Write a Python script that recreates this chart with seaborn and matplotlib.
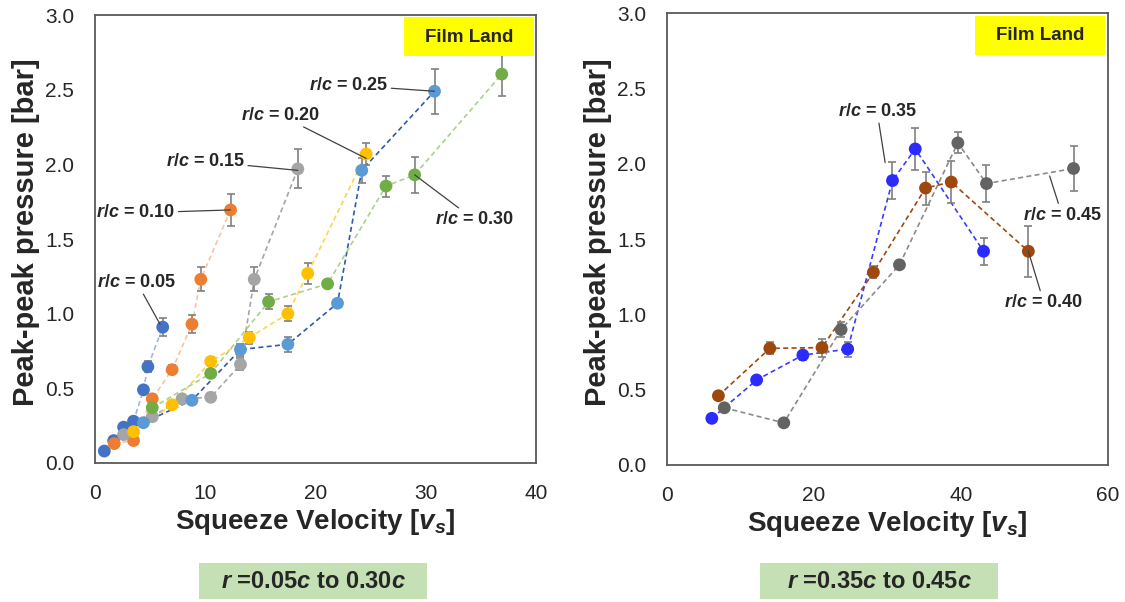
import numpy as np
import pandas as pd
import matplotlib
matplotlib.use('Agg')
import matplotlib.pyplot as plt
from matplotlib.patches import Rectangle
import seaborn as sns


# Left panel: r/c = 0.05 ... 0.30
rc05_x = [0.85, 1.7, 2.6, 3.5, 4.4, 4.8, 6.15]
rc05_y = [0.08, 0.15, 0.24, 0.28, 0.49, 0.645, 0.91]
rc05_err = [0, 0, 0, 0, 0.02, 0.035, 0.06]

rc10_x = [1.75, 3.5, 5.2, 7.0, 8.8, 9.6, 12.3]
rc10_y = [0.13, 0.15, 0.43, 0.625, 0.93, 1.23, 1.695]
rc10_err = [0, 0, 0.02, 0.03, 0.06, 0.08, 0.11]

rc15_x = [2.6, 5.2, 7.9, 10.5, 13.2, 14.45, 18.4]
rc15_y = [0.19, 0.31, 0.43, 0.44, 0.66, 1.23, 1.97]
rc15_err = [0, 0.02, 0.02, 0.02, 0.04, 0.08, 0.13]

rc20_x = [3.5, 7.0, 10.5, 14.0, 17.5, 19.3, 24.6]
rc20_y = [0.21, 0.39, 0.68, 0.84, 1.0, 1.27, 2.07]
rc20_err = [0, 0.02, 0.03, 0.04, 0.05, 0.07, 0.075]

rc25_x = [4.4, 8.8, 13.2, 17.5, 22.0, 24.2, 30.8]
rc25_y = [0.27, 0.42, 0.76, 0.795, 1.07, 1.96, 2.49]
rc25_err = [0, 0.02, 0.04, 0.05, 0.02, 0.085, 0.15]

rc30_x = [5.2, 10.5, 15.75, 21.1, 26.4, 29.0, 36.9]
rc30_y = [0.37, 0.60, 1.08, 1.20, 1.855, 1.93, 2.605]
rc30_err = [0.02, 0.02, 0.05, 0.02, 0.07, 0.12, 0.15]

# Right panel: r/c = 0.35 ... 0.45
rc35_x = [6.1, 12.2, 18.5, 24.6, 30.7, 33.8, 43.1]
rc35_y = [0.31, 0.565, 0.73, 0.77, 1.89, 2.10, 1.42]
rc35_err = [0, 0.02, 0.03, 0.05, 0.12, 0.14, 0.09]

rc40_x = [7.0, 14.0, 21.1, 28.1, 35.2, 38.7, 49.2]
rc40_y = [0.46, 0.775, 0.78, 1.28, 1.84, 1.88, 1.42]
rc40_err = [0.02, 0.04, 0.06, 0.04, 0.11, 0.14, 0.17]

rc45_x = [7.8, 15.9, 23.7, 31.65, 39.6, 43.5, 55.35]
rc45_y = [0.38, 0.28, 0.90, 1.33, 2.14, 1.87, 1.97]
rc45_err = [0.02, 0, 0.05, 0.02, 0.07, 0.12, 0.15]

left_names = ['0.05', '0.10', '0.15', '0.20', '0.25', '0.30']
right_names = ['0.35', '0.40', '0.45']

left_series = [(rc05_x, rc05_y, rc05_err), (rc10_x, rc10_y, rc10_err),
               (rc15_x, rc15_y, rc15_err), (rc20_x, rc20_y, rc20_err),
               (rc25_x, rc25_y, rc25_err), (rc30_x, rc30_y, rc30_err)]
right_series = [(rc35_x, rc35_y, rc35_err), (rc40_x, rc40_y, rc40_err),
                (rc45_x, rc45_y, rc45_err)]

left_marker_colors = ['#4472C4', '#ED7D31', '#A5A5A5', '#FFC000', '#5B9BD5', '#70AD47']
left_line_colors = ['#9DB5E3', '#F6C4A2', '#A5A5A5', '#FFD34D', '#2F5BA8', '#A9D18E']
right_marker_colors = ['#2B2BFF', '#9E480E', '#636363']
right_line_colors = ['#3B3BFF', '#9E480E', '#8A8A8A']


def make_frame(names, series):
	frames = []
	for name, (x, y, err) in zip(names, series):
		frames.append(pd.DataFrame({'v': x, 'p': y, 'err': err, 'rc': name}))
	return pd.concat(frames, ignore_index=True)


df_left = make_frame(left_names, left_series)
df_right = make_frame(right_names, right_series)

sns.set_theme(style='white')
plt.rcParams['font.family'] = ['Liberation Sans', 'DejaVu Sans']
plt.rcParams['mathtext.fontset'] = 'custom'
plt.rcParams['mathtext.it'] = 'Liberation Sans:italic:bold'
plt.rcParams['mathtext.rm'] = 'Liberation Sans:bold'
plt.rcParams['mathtext.bf'] = 'Liberation Sans:bold'

fig = plt.figure(figsize=(11.25, 6.02), dpi=100)
ax1 = fig.add_axes([0.0844, 0.2309, 0.392, 0.744])
ax2 = fig.add_axes([0.5929, 0.2276, 0.3917, 0.750])


def draw_panel(ax, df, names, line_colors, marker_colors):
	sns.lineplot(data=df, x='v', y='p', hue='rc', hue_order=names,
	             palette=dict(zip(names, line_colors)), linestyle=(0, (3, 2)),
	             linewidth=1.2, sort=False, legend=False, ax=ax, zorder=1)
	for name in names:
		sub = df[df.rc == name]
		sub = sub[sub.err > 0]
		ax.errorbar(sub.v, sub.p, yerr=sub.err, fmt='none', ecolor='#808080',
		            elinewidth=1.2, capsize=3, capthick=1.2, zorder=2)
	sns.scatterplot(data=df, x='v', y='p', hue='rc', hue_order=names,
	                palette=dict(zip(names, marker_colors)), s=85,
	                linewidth=0, legend=False, ax=ax, zorder=3)


draw_panel(ax1, df_left, left_names, left_line_colors, left_marker_colors)
draw_panel(ax2, df_right, right_names, right_line_colors, right_marker_colors)

ax1.set_xlim(0, 40)
ax1.set_xticks([0, 10, 20, 30, 40])
ax2.set_xlim(0, 60)
ax2.set_xticks([0, 20, 40, 60])

for ax in (ax1, ax2):
	ax.set_ylim(0, 3)
	ax.set_yticks(np.arange(0, 3.01, 0.5))
	ax.set_yticklabels(['%.1f' % t for t in np.arange(0, 3.01, 0.5)])
	ax.tick_params(axis='both', length=0, pad=15, labelsize=15, colors='#262626')
	for sp in ax.spines.values():
		sp.set_color('#595959')
		sp.set_linewidth(1.3)
	ax.set_xlabel(r'Squeeze Velocity [$\mathit{v_s}$]', fontsize=20, fontweight='bold')
	ax.set_ylabel('Peak-peak pressure [bar]', fontsize=21, fontweight='bold')
	ax.xaxis.set_label_coords(0.5, -0.098)
	ax.yaxis.set_label_coords(-0.125, 0.515)
	# yellow "Film Land" tag
	ax.add_patch(Rectangle((0.70, 0.908), 0.295, 0.087, transform=ax.transAxes,
	                       facecolor='#FFFF00', edgecolor='none', zorder=5))
	ax.text(0.8475, 0.951, 'Film Land', transform=ax.transAxes, ha='center',
	        va='center', fontsize=13.5, fontweight='bold', zorder=6)

arrow = dict(arrowstyle='-', color='#404040', lw=0.9, shrinkA=0, shrinkB=0)
left_notes = [('0.05', (3.8, 1.21), (5.9, 0.93)),
              ('0.10', (3.7, 1.675), (12.3, 1.695)),
              ('0.15', (10.0, 2.02), (18.4, 1.96)),
              ('0.20', (16.8, 2.33), (24.6, 2.04)),
              ('0.25', (23.0, 2.53), (30.8, 2.49)),
              ('0.30', (34.4, 1.63), (29.0, 1.93))]
right_notes = [('0.35', (28.6, 2.35), (29.7, 2.01)),
               ('0.45', (53.8, 1.66), (52.1, 1.92)),
               ('0.40', (51.3, 1.08), (49.2, 1.42))]

for ax, notes in ((ax1, left_notes), (ax2, right_notes)):
	for label, txt_pos, pt in notes:
		ax.annotate(r'$\mathit{r/c}$ = ' + label, xy=pt, xytext=txt_pos,
		            ha='center', va='center', fontsize=13, fontweight='bold',
		            arrowprops=arrow, zorder=4)

# green range boxes below the panels
for x0, x1, text in ((199, 427, r'$\mathit{r}$ =0.05$\mathit{c}$ to 0.30$\mathit{c}$'),
                     (760, 998, r'$\mathit{r}$ =0.35$\mathit{c}$ to 0.45$\mathit{c}$')):
	fig.patches.append(Rectangle((x0 / 1125, 1 - 599 / 602), (x1 - x0) / 1125, 36 / 602,
	                             transform=fig.transFigure, facecolor='#C5E0B4',
	                             edgecolor='none'))
	fig.text((x0 + x1) / 2 / 1125, 1 - 581 / 602, text, ha='center', va='center',
	         fontsize=17, fontweight='bold')

fig.savefig('out.png', dpi=100)
